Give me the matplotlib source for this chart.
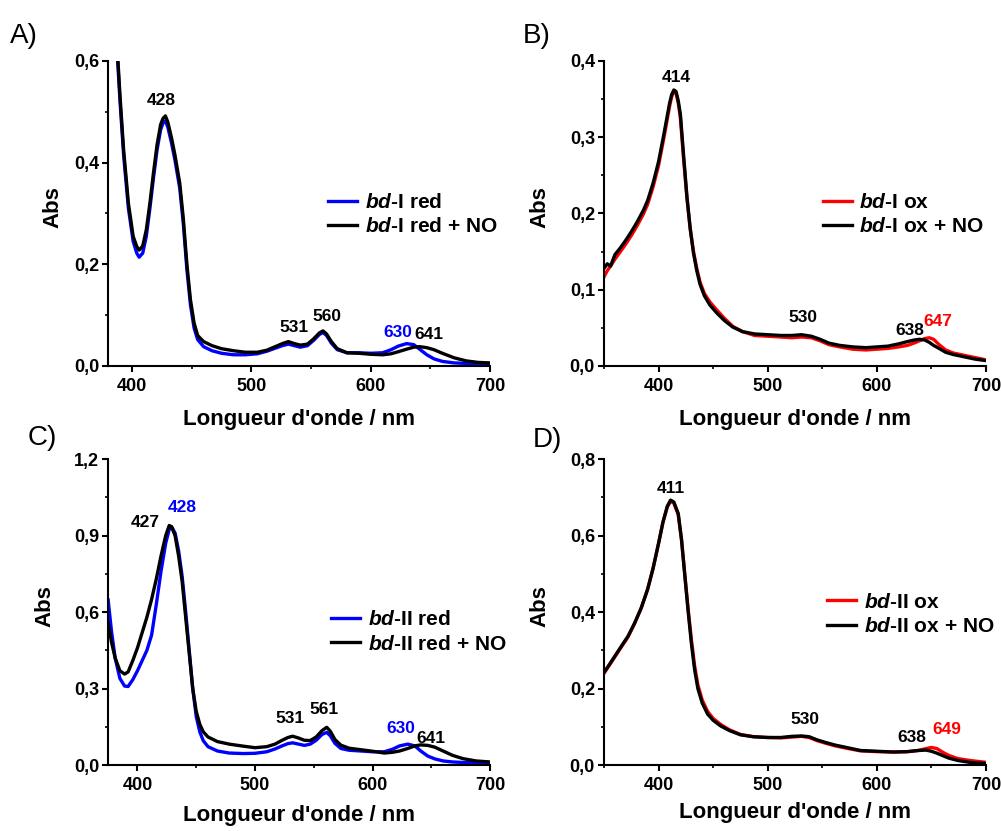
import matplotlib
matplotlib.use("Agg")
from matplotlib import pyplot as plt
from matplotlib.ticker import MultipleLocator, FuncFormatter

plt.rcParams['font.family'] = ['Liberation Sans', 'DejaVu Sans']
plt.rcParams['font.weight'] = 'bold'
plt.rcParams['mathtext.fontset'] = 'custom'
plt.rcParams['mathtext.it'] = 'Liberation Sans:italic:bold'
plt.rcParams['mathtext.rm'] = 'Liberation Sans:bold'

# ---- A) bd-I red / bd-I red + NO ----
wl_a = [385, 388, 390, 393, 397, 401, 404, 406, 409, 412, 415, 418, 421, 424, 426, 428,
        430, 433, 436, 440, 443, 446, 449, 452, 455, 460, 467, 475, 485, 495, 505, 513,
        520, 526, 531, 536, 541, 547, 552, 557, 560, 563, 567, 572, 580, 590, 600, 610,
        617, 623, 630, 636, 641, 647, 653, 660, 670, 680, 690, 700]
a_red = [0.75, 0.60, 0.52, 0.415, 0.31, 0.245, 0.222, 0.214, 0.222, 0.255, 0.31, 0.37,
         0.425, 0.465, 0.478, 0.482, 0.47, 0.44, 0.405, 0.35, 0.28, 0.19, 0.12, 0.075,
         0.052, 0.038, 0.03, 0.025, 0.022, 0.022, 0.024, 0.029, 0.035, 0.04, 0.043, 0.04,
         0.037, 0.04, 0.05, 0.062, 0.066, 0.06, 0.045, 0.032, 0.026, 0.026, 0.025, 0.026,
         0.032, 0.039, 0.044, 0.042, 0.033, 0.022, 0.014, 0.009, 0.006, 0.005, 0.005, 0.004]
a_red_no = [0.76, 0.61, 0.53, 0.425, 0.32, 0.255, 0.235, 0.228, 0.236, 0.268, 0.32, 0.38,
            0.435, 0.475, 0.487, 0.492, 0.48, 0.45, 0.415, 0.36, 0.29, 0.2, 0.13, 0.085,
            0.06, 0.048, 0.04, 0.034, 0.03, 0.027, 0.027, 0.031, 0.038, 0.044, 0.048, 0.044,
            0.041, 0.043, 0.053, 0.065, 0.069, 0.063, 0.048, 0.034, 0.026, 0.025, 0.023, 0.022,
            0.024, 0.028, 0.033, 0.037, 0.038, 0.036, 0.032, 0.025, 0.016, 0.01, 0.007, 0.006]

# ---- B) bd-I ox / bd-I ox + NO ----
wl_b = [350, 353, 356, 360, 365, 370, 375, 380, 386, 390, 395, 400, 405, 410, 412, 414,
        416, 418, 420, 423, 426, 429, 432, 435, 438, 442, 447, 453, 460, 468, 477, 488,
        500, 512, 522, 531, 540, 548, 556, 566, 578, 590, 600, 610, 620, 628, 634, 639,
        644, 648, 652, 657, 663, 670, 680, 690, 700]
b_ox = [0.117, 0.125, 0.131, 0.14, 0.15, 0.16, 0.171, 0.183, 0.199, 0.212, 0.235, 0.263,
        0.3, 0.34, 0.353, 0.36, 0.358, 0.345, 0.325, 0.27, 0.22, 0.18, 0.15, 0.128, 0.11,
        0.095, 0.084, 0.074, 0.063, 0.052, 0.045, 0.04, 0.039, 0.038, 0.037, 0.038, 0.037,
        0.033, 0.028, 0.025, 0.022, 0.021, 0.022, 0.023, 0.025, 0.027, 0.03, 0.033, 0.036,
        0.037, 0.035, 0.028, 0.021, 0.017, 0.014, 0.011, 0.008]
b_ox_no = [0.128, 0.134, 0.131, 0.146, 0.155, 0.165, 0.176, 0.188, 0.204, 0.217, 0.24, 0.268,
           0.305, 0.344, 0.356, 0.362, 0.36, 0.348, 0.33, 0.275, 0.222, 0.18, 0.148, 0.125,
           0.107, 0.092, 0.08, 0.07, 0.06, 0.051, 0.045, 0.042, 0.041, 0.04, 0.04, 0.041,
           0.039, 0.035, 0.03, 0.027, 0.025, 0.024, 0.025, 0.026, 0.029, 0.032, 0.034, 0.035,
           0.034, 0.031, 0.027, 0.023, 0.018, 0.015, 0.012, 0.009, 0.007]

# ---- C) bd-II red / bd-II red + NO ----
wl_c = [375, 378, 381, 385, 389, 392, 396, 400, 404, 408, 412, 416, 420, 424, 427, 429,
        432, 435, 438, 441, 444, 447, 450, 453, 456, 460, 468, 478, 490, 500, 510, 517,
        523, 528, 532, 537, 542, 547, 552, 557, 561, 564, 568, 573, 580, 590, 600, 610,
        617, 623, 630, 636, 641, 647, 653, 660, 668, 677, 688, 700]
c_red = [0.648, 0.52, 0.42, 0.34, 0.31, 0.308, 0.335, 0.37, 0.41, 0.45, 0.51, 0.63, 0.76,
         0.87, 0.925, 0.935, 0.91, 0.84, 0.74, 0.6, 0.45, 0.3, 0.19, 0.13, 0.095, 0.072,
         0.055, 0.047, 0.045, 0.046, 0.052, 0.063, 0.075, 0.084, 0.087, 0.082, 0.077, 0.082,
         0.097, 0.12, 0.128, 0.115, 0.085, 0.065, 0.058, 0.055, 0.052, 0.052, 0.062, 0.075,
         0.082, 0.075, 0.055, 0.035, 0.024, 0.016, 0.012, 0.01, 0.009, 0.009]
c_red_no = [0.556, 0.48, 0.42, 0.37, 0.357, 0.365, 0.41, 0.46, 0.52, 0.58, 0.65, 0.73, 0.82,
            0.9, 0.94, 0.935, 0.9, 0.82, 0.72, 0.58, 0.44, 0.3, 0.21, 0.16, 0.13, 0.11,
            0.092, 0.082, 0.074, 0.068, 0.072, 0.082, 0.097, 0.108, 0.113, 0.106, 0.097,
            0.096, 0.11, 0.135, 0.148, 0.133, 0.1, 0.078, 0.066, 0.06, 0.054, 0.047, 0.05,
            0.055, 0.065, 0.075, 0.079, 0.077, 0.07, 0.055, 0.038, 0.025, 0.016, 0.012]

# ---- D) bd-II ox / bd-II ox + NO ----
wl_d = [350, 357, 365, 372, 378, 384, 390, 395, 400, 404, 408, 411, 414, 418, 421, 424,
        427, 430, 433, 436, 440, 445, 450, 457, 465, 475, 487, 500, 512, 522, 531, 538,
        545, 553, 562, 572, 585, 600, 615, 628, 638, 645, 650, 655, 660, 666, 674, 685, 700]
d_ox = [0.24, 0.27, 0.305, 0.335, 0.37, 0.41, 0.46, 0.515, 0.58, 0.635, 0.675, 0.69,
        0.685, 0.655, 0.59, 0.5, 0.41, 0.33, 0.26, 0.21, 0.17, 0.14, 0.122, 0.106, 0.092,
        0.08, 0.074, 0.072, 0.071, 0.073, 0.075, 0.072, 0.064, 0.057, 0.05, 0.044, 0.037,
        0.035, 0.034, 0.035, 0.038, 0.043, 0.046, 0.043, 0.034, 0.025, 0.017, 0.012, 0.007]
d_ox_no = [0.242, 0.272, 0.307, 0.337, 0.371, 0.41, 0.46, 0.515, 0.58, 0.635, 0.677, 0.693,
           0.688, 0.658, 0.59, 0.497, 0.405, 0.32, 0.25, 0.2, 0.162, 0.133, 0.117, 0.102,
           0.09, 0.079, 0.074, 0.072, 0.072, 0.075, 0.076, 0.074, 0.066, 0.059, 0.052, 0.046,
           0.038, 0.036, 0.034, 0.035, 0.038, 0.039, 0.036, 0.031, 0.025, 0.018, 0.012, 0.007,
           0.004]

BLUE = '#0000ff'
RED = '#ff0000'

fig = plt.figure(figsize=(10.01, 8.31), dpi=100)

def comma(v, pos):
    return ('%.1f' % v).replace('.', ',')

def panel(rect, wl, y1, y2, c1, lab1, lab2, xlim, ylim, ymaj, legpos, ylab_x, xlab_y, notes):
    ax = fig.add_axes(rect)
    ax.plot(wl, y1, color=c1, lw=2.4, label=lab1, solid_joinstyle='round')
    ax.plot(wl, y2, color='black', lw=2.4, label=lab2, solid_joinstyle='round')
    ax.set_xlim(*xlim)
    ax.set_ylim(*ylim)
    for s in ['top', 'right']:
        ax.spines[s].set_visible(False)
    for s in ['left', 'bottom']:
        ax.spines[s].set_linewidth(1.5)
    ax.xaxis.set_major_locator(MultipleLocator(100))
    ax.xaxis.set_minor_locator(MultipleLocator(50))
    ax.yaxis.set_major_locator(MultipleLocator(ymaj))
    ax.yaxis.set_minor_locator(MultipleLocator(ymaj / 2))
    ax.yaxis.set_major_formatter(FuncFormatter(comma))
    ax.tick_params(which='major', length=4.5, width=1.5, labelsize=13, pad=2)
    ax.tick_params(which='minor', length=2.5, width=1.2)
    ax.tick_params(axis='x', which='major', pad=4)
    ax.set_xlabel("Longueur d'onde / nm", fontsize=16, fontweight='bold', va='top')
    ax.set_ylabel('Abs', fontsize=16, fontweight='bold')
    ax.xaxis.set_label_coords(0.5, xlab_y)
    ax.yaxis.set_label_coords(ylab_x, 0.52)
    ax.legend(loc='center left', bbox_to_anchor=legpos, frameon=False, fontsize=15,
              handlelength=1.4, handletextpad=0.35, labelspacing=0.25,
              borderpad=0, borderaxespad=0)
    for txt, x, y, c in notes:
        ax.text(x, y, txt, color=c, fontsize=12.5, fontweight='bold', ha='center', va='center')
    return ax

panel([0.108, 0.5596, 0.3816, 0.367], wl_a, a_red, a_red_no, BLUE,
      r'$\mathit{bd}$-I red', r'$\mathit{bd}$-I red + NO',
      (380, 700), (0, 0.6), 0.2, (0.576, 0.497), -0.118, -0.141,
      [('428', 424.5, 0.523, 'black'), ('531', 535.5, 0.075, 'black'),
       ('560', 563, 0.098, 'black'), ('630', 623, 0.065, BLUE), ('641', 649, 0.061, 'black')])

panel([0.6034, 0.5596, 0.3816, 0.367], wl_b, b_ox, b_ox_no, RED,
      r'$\mathit{bd}$-I ox', r'$\mathit{bd}$-I ox + NO',
      (350, 700), (0, 0.4), 0.1, (0.573, 0.497), -0.141, -0.141,
      [('414', 416, 0.379, 'black'), ('530', 532.6, 0.063, 'black'),
       ('638', 630, 0.047, 'black'), ('647', 656, 0.058, RED)])

panel([0.108, 0.0794, 0.3816, 0.368], wl_c, c_red, c_red_no, BLUE,
      r'$\mathit{bd}$-II red', r'$\mathit{bd}$-II red + NO',
      (375, 700), (0, 1.2), 0.3, (0.584, 0.435), -0.139, -0.131,
      [('427', 407, 0.953, 'black'), ('428', 438.5, 1.01, BLUE),
       ('531', 530, 0.184, 'black'), ('561', 559, 0.216, 'black'),
       ('630', 624, 0.145, BLUE), ('641', 649.6, 0.106, 'black')])

panel([0.6034, 0.0794, 0.3816, 0.368], wl_d, d_ox, d_ox_no, RED,
      r'$\mathit{bd}$-II ox', r'$\mathit{bd}$-II ox + NO',
      (350, 700), (0, 0.8), 0.2, (0.584, 0.493), -0.141, -0.121,
      [('411', 411.5, 0.724, 'black'), ('530', 534, 0.118, 'black'),
       ('638', 631.6, 0.071, 'black'), ('649', 664, 0.092, RED)])

for letter, x, y in [('A)', 10, 36), ('B)', 523, 36), ('C)', 28, 438), ('D)', 533, 440)]:
    fig.text(x / 1001, 1 - y / 831, letter, fontsize=20, fontweight='normal',
             ha='left', va='center')

fig.savefig('out.png', dpi=100)
